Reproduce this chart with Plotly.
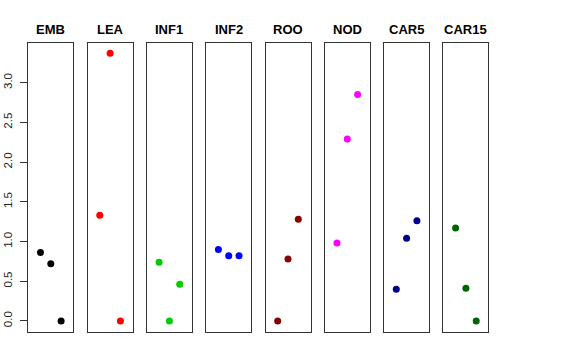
import plotly.graph_objects as go

tissues = ["EMB", "LEA", "INF1", "INF2", "ROO", "NOD", "CAR5", "CAR15"]
colors = ["#000000", "#FF0000", "#00CD00", "#0000FF", "#8B0000", "#FF00FF", "#00008B", "#006400"]
positions = [1, 2, 3]
values = {
    "EMB":   [0.86, 0.72, 0.00],
    "LEA":   [1.33, 3.37, 0.00],
    "INF1":  [0.74, 0.00, 0.46],
    "INF2":  [0.90, 0.82, 0.82],
    "ROO":   [0.00, 0.78, 1.28],
    "NOD":   [0.98, 2.29, 2.85],
    "CAR5":  [0.40, 1.04, 1.26],
    "CAR15": [1.17, 0.41, 0.00],
}
y_ticks = [0.0, 0.5, 1.0, 1.5, 2.0, 2.5, 3.0]
y_ticklabels = ["0.0", "0.5", "1.0", "1.5", "2.0", "2.5", "3.0"]

W, H = 576, 360
ml, mr, mt, mb = 28, 87, 43, 28
pw = W - ml - mr
step, width = 59.3, 45.0

fig = go.Figure()
layout = dict(
    width=W, height=H,
    margin=dict(l=ml, r=mr, t=mt, b=mb, pad=0, autoexpand=False),
    paper_bgcolor="white", plot_bgcolor="white",
    showlegend=False,
    font=dict(family="Liberation Sans, Arial, sans-serif", color="black"),
)
annotations = []
for i, t in enumerate(tissues):
    sfx = "" if i == 0 else str(i + 1)
    x0 = min(1.0, (0.3 + i * step) / pw)
    x1 = min(1.0, (0.3 + i * step + width) / pw)
    fig.add_trace(go.Scatter(
        x=positions, y=values[t], mode="markers",
        marker=dict(color=colors[i], size=7),
        xaxis="x" + sfx, yaxis="y" + sfx, hoverinfo="y",
    ))
    layout["xaxis" + sfx] = dict(
        domain=[x0, x1], range=[-0.18, 4.18], anchor="y" + sfx,
        showticklabels=False, ticks="", showgrid=False, zeroline=False,
        showline=True, mirror=True, linecolor="#333", linewidth=1,
        automargin=False,
    )
    ya = dict(
        domain=[0, 1], range=[-0.14, 3.5], anchor="x" + sfx,
        showgrid=False, zeroline=False, automargin=False,
        showline=True, mirror=True, linecolor="#333", linewidth=1,
    )
    if i == 0:
        ya.update(tickvals=y_ticks, ticktext=y_ticklabels, ticks="outside",
                  ticklen=7, tickcolor="#333", tickangle=-90,
                  tickfont=dict(size=11.5, color="#222"), ticklabelstandoff=4)
    else:
        ya.update(showticklabels=False, ticks="", matches="y")
    layout["yaxis" + sfx] = ya
    annotations.append(dict(
        text="<b>" + t + "</b>", x=(x0 + x1) / 2, y=1 + 13 / (H - mt - mb),
        xref="paper", yref="paper", xanchor="center", yanchor="middle",
        showarrow=False, font=dict(size=13, color="black"),
    ))
layout["annotations"] = annotations
fig.update_layout(**layout)
fig.write_html("out.html", post_script="document.body.style.margin='0';",
               config={"displayModeBar": False})
